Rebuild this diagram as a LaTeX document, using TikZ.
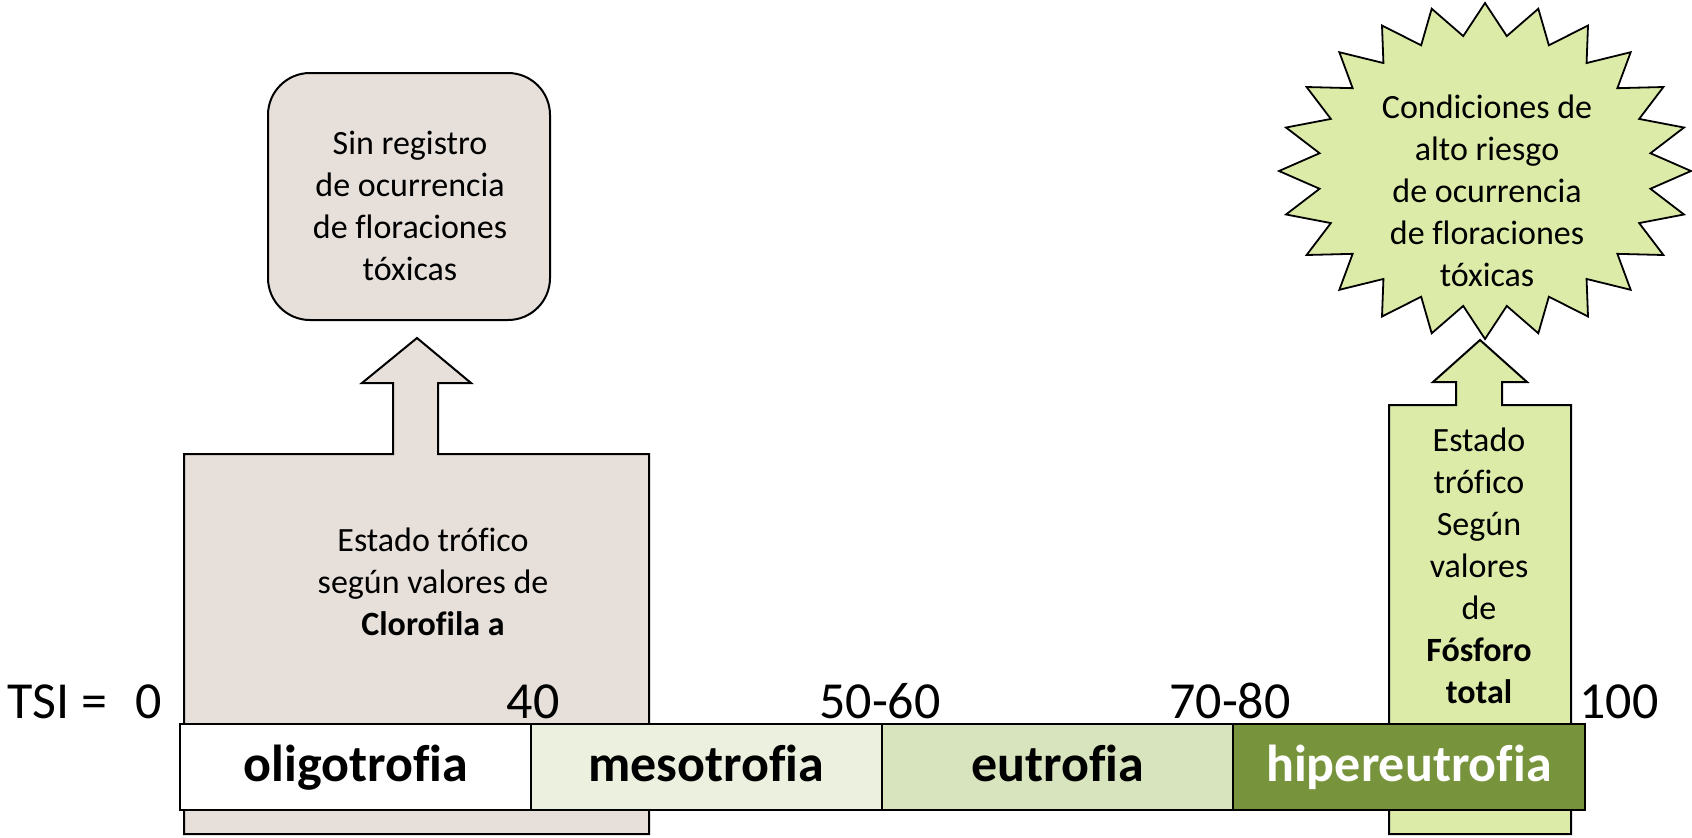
\documentclass[tikz,border=0pt]{standalone}
\usepackage{fontspec}
\setmainfont{Carlito}[Ligatures=NoCommon]
\definecolor{tanfill}{HTML}{E7E0DA}
\definecolor{limefill}{HTML}{DCEBA8}
\definecolor{mesofill}{HTML}{EBF1DE}
\definecolor{eufill}{HTML}{D7E4BD}
\definecolor{hiperfill}{HTML}{77933C}
\tikzset{
  shapeline/.style={draw=black, line width=1pt, line join=miter},
  boxtext/.style={align=center, inner sep=0pt, font=\fontsize{17}{21}\selectfont},
  ticklabel/.style={anchor=base, inner sep=0pt, font=\fontsize{26}{30}\selectfont},
  seglabel/.style={anchor=base, inner sep=0pt, font=\fontsize{26}{30}\selectfont\bfseries},
  segbox/.style={draw=black, line width=1.1pt}
}
\begin{document}
\begin{tikzpicture}[x=0.5pt, y=-0.5pt]
\useasboundingbox (0,0) rectangle (1692,837);

% tan box with up-arrow
\draw[shapeline, fill=tanfill]
  (184,834) -- (184,454) -- (393,454) -- (393,383) -- (362,383) -- (417,338)
  -- (471,383) -- (438,383) -- (438,454) -- (649,454) -- (649,834) -- cycle;

% green box with up-arrow
\draw[shapeline, fill=limefill]
  (1389,834) -- (1389,405) -- (1456,405) -- (1456,382) -- (1433,382) -- (1480,340)
  -- (1527,382) -- (1502,382) -- (1502,405) -- (1571,405) -- (1571,834) -- cycle;

% starburst (24 points)
\draw[draw=black, line width=0.9pt, line join=miter, fill=limefill]
  plot[samples at={0,...,47}, variable=\k]
  ({1485+206*(1-0.19*mod(\k,2))*cos(90+7.5*\k)}, {171-168*(1-0.19*mod(\k,2))*sin(90+7.5*\k)}) -- cycle;

% rounded box
\draw[shapeline, fill=tanfill, rounded corners=21pt] (268,73) rectangle (550,320);

\node[boxtext] (sinreg) at (410,206) {Sin registro\\de ocurrencia\\de floraciones\\tóxicas};
\node[boxtext] (clorof) at (433,582) {Estado trófico\\según valores de\\\textbf{Clorofila a}};
\node[boxtext] (fosf) at (1479,566) {Estado\\trófico\\Según\\valores\\de\\\textbf{Fósforo}\\\textbf{total}};
\node[boxtext] (star) at (1487,191) {Condiciones de\\alto riesgo\\de ocurrencia\\de floraciones\\tóxicas};

% bar segments
\draw[segbox, fill=white] (180,724) rectangle (531,810);
\draw[segbox, fill=mesofill] (531,724) rectangle (882,810);
\draw[segbox, fill=eufill] (882,724) rectangle (1233,810);
\draw[segbox, fill=hiperfill] (1233,724) rectangle (1585,810);

\node[seglabel] (oligo) at (356,781) {oligotrofia};
\node[seglabel] (meso) at (706,781) {mesotrofia};
\node[seglabel] (eu) at (1058,781) {eutrofia};
\node[seglabel, text=white] (hiper) at (1409,781) {hipereutrofia};

% tick labels
\node[ticklabel, anchor=base west] (tsi) at (7,718) {TSI =};
\node[ticklabel] (t0) at (149,718) {0};
\node[ticklabel] (t40) at (533,718) {40};
\node[ticklabel] (t5060) at (880,718) {50-60};
\node[ticklabel] (t7080) at (1230,718) {70-80};
\node[ticklabel, anchor=base west] (t100) at (1579,718) {100};
\end{tikzpicture}
\end{document}
